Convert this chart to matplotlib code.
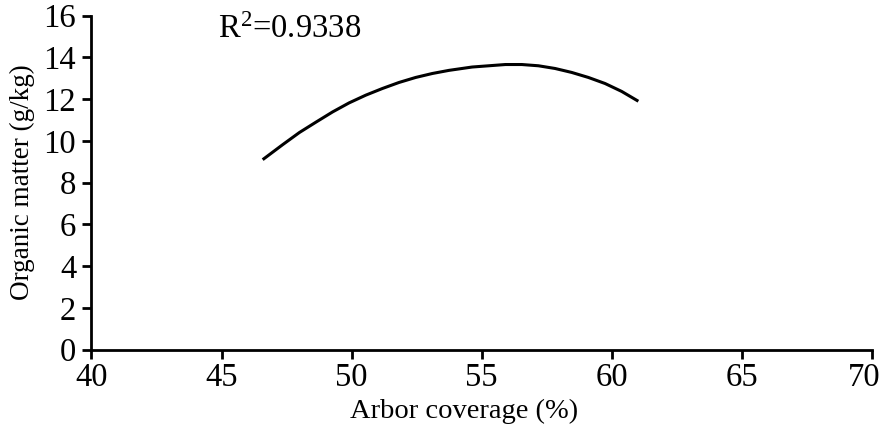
import numpy as np
import matplotlib
matplotlib.use("Agg")
import matplotlib.pyplot as plt
from matplotlib.transforms import ScaledTranslation

plt.rcParams['font.family'] = ['Liberation Serif', 'DejaVu Serif']
plt.rcParams['mathtext.fontset'] = 'custom'
plt.rcParams['mathtext.rm'] = 'Liberation Serif'

# fitted curve, organic matter vs arbor coverage
coverage = [46.58, 47.35, 47.99, 48.63, 49.27, 49.90, 50.54, 51.18, 51.82,
            52.46, 53.10, 53.74, 54.63, 55.91, 56.54, 57.18, 57.82, 58.46,
            59.10, 59.74, 60.38, 61.02]
organic = [9.10, 9.82, 10.40, 10.90, 11.39, 11.82, 12.19, 12.51, 12.80,
           13.04, 13.23, 13.38, 13.54, 13.66, 13.66, 13.60, 13.47, 13.28,
           13.04, 12.75, 12.37, 11.90]
r2_text = r'R$\mathregular{^2}$=0.9338'

xticks = np.arange(40, 71, 5)
yticks = np.arange(0, 17, 2)

fig = plt.figure(figsize=(8.84, 4.28), dpi=100)
ax = fig.add_axes([0.1035, 0.1834, 0.8829, 0.7799])

ax.plot(coverage, organic, color='black', lw=2.2, solid_capstyle='butt',
        solid_joinstyle='round')

ax.set_xlim(40, 70)
ax.set_ylim(0, 16)
ax.set_xticks(xticks)
ax.set_yticks(yticks)
ax.tick_params(labelsize=23.5, width=2, length=6.5, direction='out')
ax.tick_params(axis='y', pad=4.5)
ax.tick_params(axis='x', pad=3)

for side in ['top', 'right']:
    ax.spines[side].set_visible(False)
for side in ['left', 'bottom']:
    ax.spines[side].set_linewidth(2)

# keep the last x label inside the figure
last = ax.get_xticklabels()[-1]
last.set_transform(last.get_transform() + ScaledTranslation(-0.08, 0, fig.dpi_scale_trans))

ax.set_xlabel('Arbor coverage (%)', fontsize=20.5, labelpad=4)
ax.xaxis.label.set_x(0.477)
ax.set_ylabel('Organic matter (g/kg)', fontsize=19.5, labelpad=6)

ax.text(44.85, 14.93, r2_text, fontsize=23.5, va='baseline', ha='left')

fig.savefig('out.png', dpi=100)
